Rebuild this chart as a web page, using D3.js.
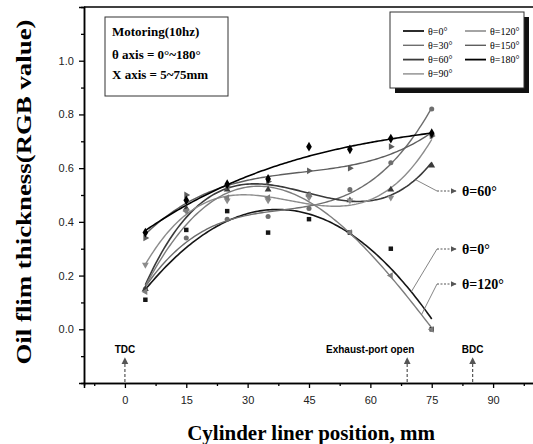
<!doctype html>
<html lang="en">
<head>
<meta charset="utf-8">
<title>Oil film thickness</title>
<script src="https://d3js.org/d3.v7.min.js"></script>
<style>
  body { margin: 0; background: #fff; }
  svg { display: block; }
</style>
</head>
<body>
<div id="main"></div>
<script>
// measured positions along the liner (mm)
const positions = [5, 15, 25, 35, 45, 55, 65, 75]

// RGB-value readings per crank angle
const theta0   = [0.11, 0.37, 0.44, 0.36, 0.41, 0.36, 0.30, 0.00]
const theta30  = [0.15, 0.34, 0.41, 0.42, 0.45, 0.52, 0.62, 0.82]
const theta60  = [0.15, 0.45, 0.52, 0.52, 0.50, 0.48, 0.52, 0.61]
const theta90  = [0.24, 0.44, 0.48, 0.48, 0.49, 0.48, 0.49, 0.72]
const theta120 = [0.14, 0.44, 0.49, 0.49, 0.50, 0.36, 0.20, 0.00]
const theta150 = [0.34, 0.50, 0.53, 0.55, 0.59, 0.60, 0.68, 0.72]
const theta180 = [0.36, 0.48, 0.54, 0.56, 0.68, 0.67, 0.71, 0.73]

const seriesNames = ['θ=0°', 'θ=30°', 'θ=60°', 'θ=90°', 'θ=120°', 'θ=150°', 'θ=180°']
const seriesValues = [theta0, theta30, theta60, theta90, theta120, theta150, theta180]

const xTicks = [0, 15, 30, 45, 60, 75, 90]
const yTicks = [0.0, 0.2, 0.4, 0.6, 0.8, 1.0]

const markers = [
  { name: 'TDC', x: 0 },
  { name: 'Exhaust-port open', x: 69 },
  { name: 'BDC', x: 85 }
]

const callouts = [
  { label: 'θ=60°', series: 2, at: 71, ty: 191 },
  { label: 'θ=0°', series: 0, at: 70, ty: 249 },
  { label: 'θ=120°', series: 4, at: 72.5, ty: 284 }
]

const lineColours = ['#151515', '#6e6e6e', '#3a3a3a', '#8c8c8c', '#7d7d7d', '#5e5e5e', '#000']
const symbolTypes = [d3.symbolSquare, d3.symbolCircle, d3.symbolTriangle, d3.symbolTriangle,
                     d3.symbolTriangle, d3.symbolTriangle, d3.symbolDiamond]
const symbolRot = [0, 0, 0, 180, -90, 90, 0]

const W = 533, H = 444
const svg = d3.select('#main').append('svg').attr('width', W).attr('height', H)

const x = d3.scaleLinear().domain([-10, 100]).range([84, 534])
const y = d3.scaleLinear().domain([-0.2, 1.2]).range([383, 7])

// cubic least squares fit, like the original software
const polyFit = (xv, yv, deg) => {
  const n = deg + 1
  const A = d3.range(n).map(() => d3.range(n + 1).fill(0))
  xv.forEach((xi, k) => {
    for (let i = 0; i < n; i++) {
      for (let j = 0; j < n; j++) A[i][j] += Math.pow(xi, i + j)
      A[i][n] += yv[k] * Math.pow(xi, i)
    }
  })
  for (let c = 0; c < n; c++) {
    let p = c
    for (let r = c + 1; r < n; r++) if (Math.abs(A[r][c]) > Math.abs(A[p][c])) p = r
    ;[A[c], A[p]] = [A[p], A[c]]
    for (let r = 0; r < n; r++) {
      if (r === c) continue
      const f = A[r][c] / A[c][c]
      for (let k = c; k <= n; k++) A[r][k] -= f * A[c][k]
    }
  }
  const coef = d3.range(n).map(i => A[i][n] / A[i][i])
  return t => coef.reduce((s, a, i) => s + a * Math.pow(t, i), 0)
}

const fits = seriesValues.map(v => polyFit(positions, v, 3))

// axes frame
const axisG = svg.append('g').style('font-family', '"Liberation Sans", Arial, sans-serif')
axisG.append('line').attr('x1', 84).attr('x2', 534).attr('y1', 7).attr('y2', 7)
  .attr('stroke', '#000').attr('stroke-width', 1.5)

const xAxis = d3.axisBottom(x).tickValues(xTicks).tickSize(5).tickFormat(d3.format('d'))
const xMinor = d3.axisBottom(x).tickValues(d3.range(-7.5, 100, 15)).tickSize(3).tickFormat('')
const yAxis = d3.axisLeft(y).tickValues(yTicks).tickSize(5).tickFormat(d3.format('.1f'))
const yMinor = d3.axisLeft(y).tickValues(d3.range(-0.1, 1.15, 0.2)).tickSize(3).tickFormat('')

const gx = axisG.append('g').attr('transform', 'translate(0,383)').call(xAxis)
axisG.append('g').attr('transform', 'translate(0,383)').call(xMinor)
const gy = axisG.append('g').attr('transform', 'translate(84,0)').call(yAxis)
axisG.append('g').attr('transform', 'translate(84,0)').call(yMinor)

axisG.selectAll('.domain').attr('stroke-width', 1.5)
axisG.selectAll('.tick line').attr('stroke-width', 1.3)
gx.selectAll('text').attr('font-size', 11).attr('dy', '1.15em').attr('fill', '#222')
gy.selectAll('text').attr('font-size', 11).attr('dx', '-0.2em').attr('fill', '#222')

// axis titles
svg.append('text')
  .attr('x', 311).attr('y', 440)
  .attr('text-anchor', 'middle')
  .style('font-family', '"Liberation Serif", "Times New Roman", serif')
  .style('font-weight', 'bold').style('font-size', '21px')
  .text('Cylinder liner position, mm')

svg.append('text')
  .attr('transform', 'translate(31,192)rotate(-90)')
  .attr('text-anchor', 'middle')
  .attr('textLength', 345).attr('lengthAdjust', 'spacingAndGlyphs')
  .style('font-family', '"Liberation Serif", "Times New Roman", serif')
  .style('font-weight', 'bold').style('font-size', '22px')
  .text('Oil flim thickness(RGB value)')

// arrow head
svg.append('defs').append('marker')
  .attr('id', 'arr').attr('viewBox', '0 0 10 10').attr('refX', 9).attr('refY', 5)
  .attr('markerWidth', 6).attr('markerHeight', 6).attr('orient', 'auto-start-reverse')
  .append('path').attr('d', 'M0,0 L10,5 L0,10 z').attr('fill', '#555')

// TDC / exhaust / BDC markers
const mk = svg.append('g')
mk.selectAll('line').data(markers).enter().append('line')
  .attr('x1', d => x(d.x)).attr('x2', d => x(d.x))
  .attr('y1', 382).attr('y2', 358)
  .attr('stroke', '#555').attr('stroke-width', 1.2).attr('stroke-dasharray', '3,2')
  .attr('marker-end', 'url(#arr)')
mk.selectAll('text').data(markers).enter().append('text')
  .attr('x', d => d.x === 69 ? x(d.x) - 37 : x(d.x))
  .attr('y', 353)
  .attr('text-anchor', 'middle')
  .style('font-family', '"Liberation Sans", Arial, sans-serif')
  .style('font-weight', 'bold').style('font-size', '10px')
  .text(d => d.name)

// fitted curves
const line = d3.line().x(d => x(d[0])).y(d => y(d[1])).curve(d3.curveLinear)
const curveX = d3.range(5, 75.01, 0.5)
svg.append('g').selectAll('path').data(fits).enter().append('path')
  .attr('d', f => line(curveX.map(t => [t, f(t)])))
  .attr('fill', 'none')
  .attr('stroke', (d, i) => lineColours[i])
  .attr('stroke-width', (d, i) => (i === 0 || i === 2 || i === 6) ? 1.6 : 1.4)

// scatter points
const pts = svg.append('g')
seriesValues.forEach((vals, i) => {
  pts.selectAll('.s' + i).data(vals).enter().append('path')
    .attr('class', 's' + i)
    .attr('d', d3.symbol().type(symbolTypes[i]).size(i === 6 ? 28 : 20))
    .attr('transform', (d, j) => `translate(${x(positions[j])},${y(d)})rotate(${symbolRot[i]})`)
    .attr('fill', lineColours[i])
})

// callouts
const co = svg.append('g')
callouts.forEach(c => {
  const px = x(c.at), py = y(fits[c.series](c.at))
  co.append('line').attr('x1', px).attr('y1', py).attr('x2', 437).attr('y2', c.ty)
    .attr('stroke', '#666').attr('stroke-width', 0.8)
  co.append('line').attr('x1', 437).attr('y1', c.ty).attr('x2', 456).attr('y2', c.ty)
    .attr('stroke', '#555').attr('stroke-width', 1).attr('stroke-dasharray', '2,1.5')
    .attr('marker-end', 'url(#arr)')
  co.append('text').attr('x', 462).attr('y', c.ty + 5)
    .style('font-family', '"Liberation Serif", "Times New Roman", serif')
    .style('font-weight', 'bold').style('font-size', '14px')
    .text(c.label)
})

// info box
const info = svg.append('g').style('font-family', '"Liberation Serif", "Times New Roman", serif')
  .style('font-weight', 'bold').style('font-size', '13px')
info.append('rect').attr('x', 105).attr('y', 17).attr('width', 123).attr('height', 79)
  .attr('fill', '#fff').attr('stroke', '#333').attr('stroke-width', 1)
info.append('text').attr('x', 112).attr('y', 36).text('Motoring(10hz)')
info.append('text').attr('x', 112).attr('y', 59).text('θ axis = 0°~180°')
info.append('text').attr('x', 112).attr('y', 79).text('X axis = 5~75mm')

// legend
const lg = svg.append('g').style('font-family', '"Liberation Serif", "Times New Roman", serif')
  .style('font-size', '10px')
lg.append('rect').attr('x', 395).attr('y', 17).attr('width', 134).attr('height', 76).attr('fill', '#111')
lg.append('rect').attr('x', 390).attr('y', 12).attr('width', 134).attr('height', 76)
  .attr('fill', '#fff').attr('stroke', '#333').attr('stroke-width', 1)
const entries = lg.selectAll('g.e').data(seriesNames).enter().append('g')
  .attr('class', 'e')
  .attr('transform', (d, i) => i < 4 ? `translate(403,${31 + i * 14.3})` : `translate(465,${31 + (i - 4) * 14.3})`)
entries.append('line').attr('x1', 0).attr('x2', 21).attr('y1', 0).attr('y2', 0)
  .attr('stroke', (d, i) => lineColours[i]).attr('stroke-width', (d, i) => (i === 0 || i === 2 || i === 6) ? 1.8 : 1.4)
entries.append('text').attr('x', 25).attr('y', 3.5).text(d => d)
</script>
</body>
</html>
